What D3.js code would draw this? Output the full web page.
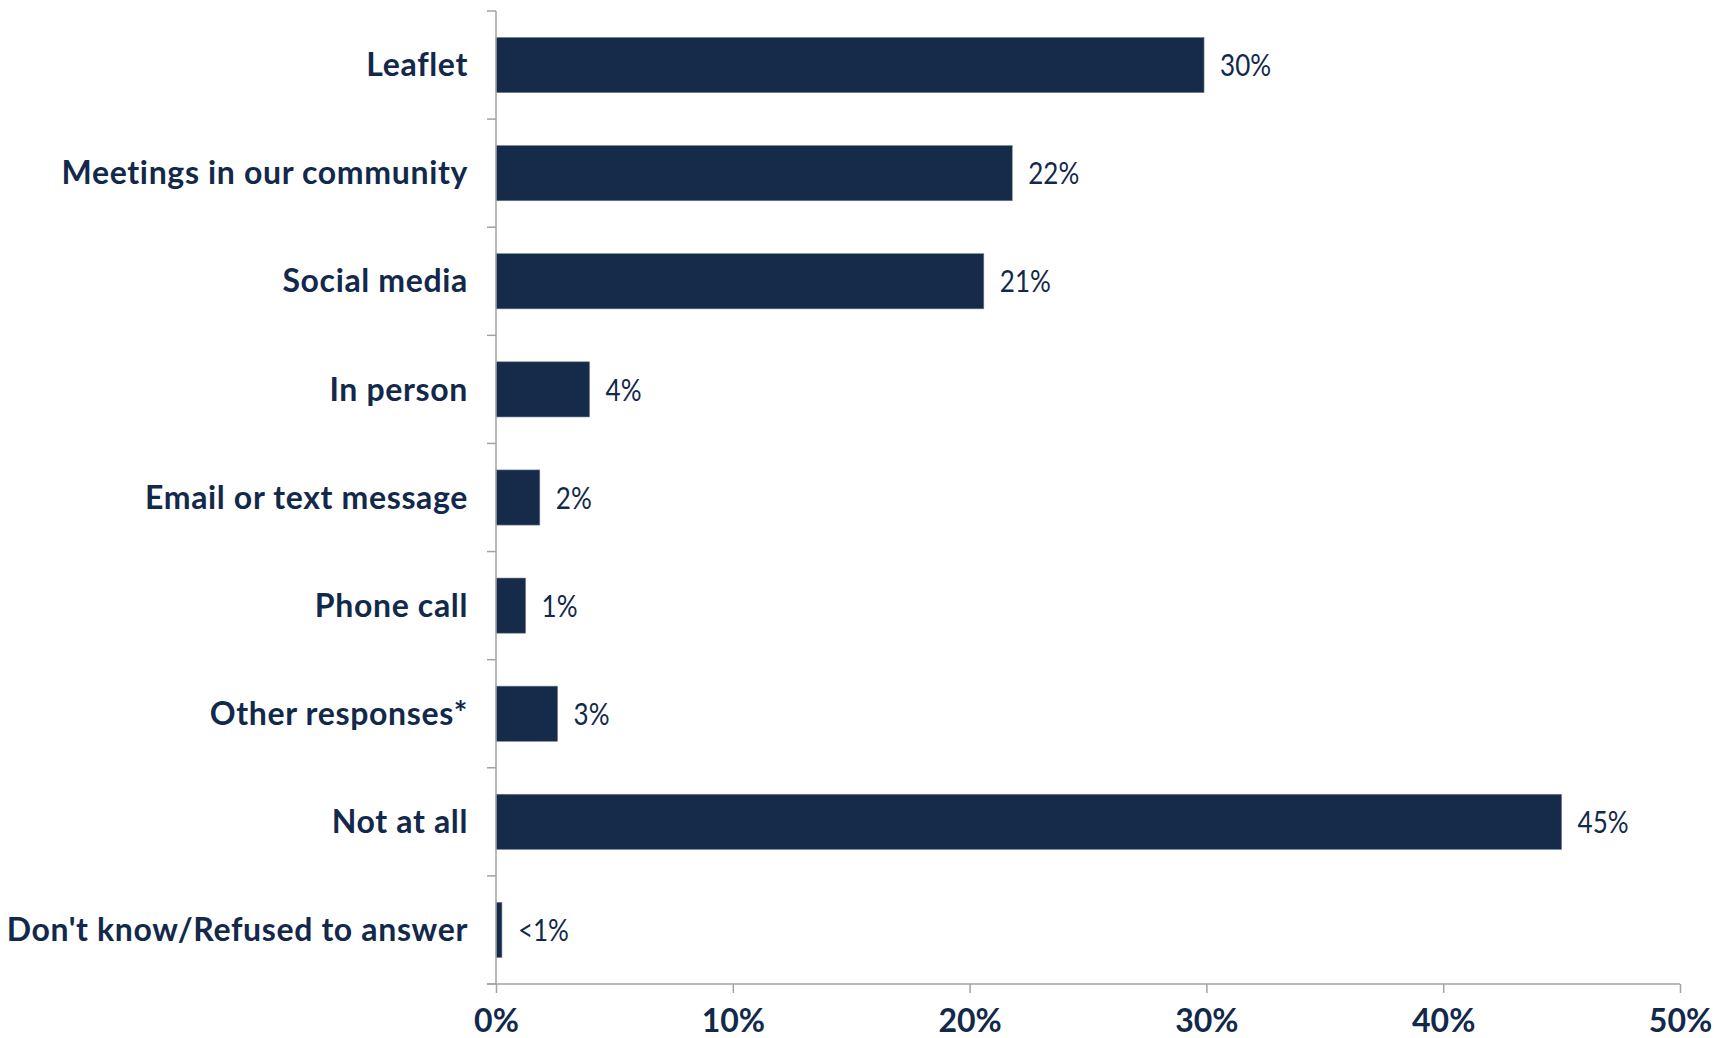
<!DOCTYPE html>
<html>
<head>
<meta charset="utf-8">
<script src="https://cdn.jsdelivr.net/npm/d3@7"></script>
<style>
  html, body { margin: 0; padding: 0; background: #ffffff; }
  svg { display: block; }
</style>
</head>
<body>
<svg id="chart" width="1728" height="1038"></svg>
<script>
const categories = [
  "Leaflet",
  "Meetings in our community",
  "Social media",
  "In person",
  "Email or text message",
  "Phone call",
  "Other responses*",
  "Not at all",
  "Don't know/Refused to answer"
];
const values = [29.9, 21.8, 20.6, 3.95, 1.85, 1.25, 2.6, 45.0, 0.25];
const valueLabels = ["30%", "22%", "21%", "4%", "2%", "1%", "3%", "45%", "<1%"];
const xTicks = [0, 10, 20, 30, 40, 50];
const xTickLabels = ["0%", "10%", "20%", "30%", "40%", "50%"];

const W = 1728, H = 1038;
const margin = { left: 496, right: 48, top: 11, bottom: 54 };
const navy = "#162a4a";
const textNavy = "#13294b";
const axisGrey = "#a3a3a3";

const svg = d3.select("#chart");

const x = d3.scaleLinear().domain([0, 50]).range([margin.left, W - margin.right]);
const y = d3.scaleBand().domain(categories)
  .range([margin.top, H - margin.bottom])
  .paddingInner(0.49).paddingOuter(0.245);

// bars
svg.append("g").selectAll("rect").data(categories).join("rect")
  .attr("x", x(0))
  .attr("y", d => y(d))
  .attr("width", (d, i) => x(values[i]) - x(0))
  .attr("height", y.bandwidth())
  .attr("fill", navy)
  .attr("stroke", "#6f7d92")
  .attr("stroke-width", 0.6);

// y axis line and boundary ticks
const step = y.step();
const boundaries = d3.range(categories.length + 1).map(i => margin.top + i * step);
const yAxisG = svg.append("g");
yAxisG.append("line")
  .attr("x1", x(0)).attr("x2", x(0))
  .attr("y1", margin.top).attr("y2", H - margin.bottom)
  .attr("stroke", axisGrey).attr("stroke-width", 1.5);
yAxisG.selectAll("line.tick").data(boundaries).join("line")
  .attr("class", "tick")
  .attr("x1", x(0) - 9).attr("x2", x(0))
  .attr("y1", d => d).attr("y2", d => d)
  .attr("stroke", axisGrey).attr("stroke-width", 1.5);

// category labels
svg.append("g").selectAll("text").data(categories).join("text")
  .attr("x", x(0) - 28)
  .attr("y", d => y(d) + y.bandwidth() / 2)
  .attr("dy", "0.35em")
  .attr("text-anchor", "end")
  .attr("font-family", "Lato, 'Noto Sans', sans-serif")
  .attr("font-weight", 700)
  .attr("font-size", 32)
  .attr("letter-spacing", "0.65px")
  .attr("fill", textNavy)
  .text(d => d);

// value labels (horizontally condensed)
svg.append("g").selectAll("text").data(categories).join("text")
  .attr("transform", (d, i) => `translate(${x(values[i]) + 16},${y(d) + y.bandwidth() / 2}) scale(0.84,1)`)
  .attr("dy", "0.36em")
  .attr("font-family", "'Liberation Sans Narrow', 'Lato', sans-serif")
  .attr("font-size", 31)
  .attr("fill", textNavy)
  .text((d, i) => valueLabels[i]);

// x axis
const xAxis = d3.axisBottom(x)
  .tickValues(xTicks)
  .tickFormat((d, i) => xTickLabels[i])
  .tickSizeInner(9)
  .tickSizeOuter(0)
  .tickPadding(16);
const xg = svg.append("g")
  .attr("transform", `translate(0,${H - margin.bottom})`)
  .call(xAxis);
xg.select(".domain").remove();
xg.append("line")
  .attr("x1", x(0) - 9).attr("x2", x(50))
  .attr("y1", 0).attr("y2", 0)
  .attr("stroke", axisGrey).attr("stroke-width", 1.5);
xg.selectAll(".tick line").attr("stroke", axisGrey).attr("stroke-width", 1.5);
xg.selectAll(".tick text")
  .attr("font-family", "Lato, 'Noto Sans', sans-serif")
  .attr("font-weight", 700)
  .attr("font-size", 32)
  .attr("fill", textNavy);
</script>
</body>
</html>
